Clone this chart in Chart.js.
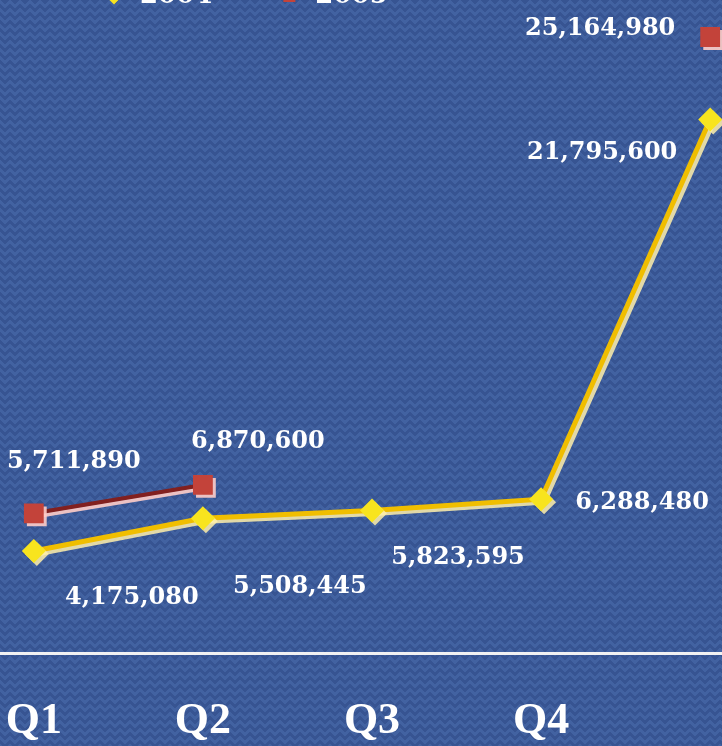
<!DOCTYPE html>
<html>
<head>
<meta charset="utf-8">
<script src="https://cdn.jsdelivr.net/npm/chart.js@4/dist/chart.umd.min.js"></script>
<style>
  html, body { margin: 0; padding: 0; width: 722px; height: 746px; overflow: hidden; }
  body {
    background-color: #4262a1;
    background-image:
      linear-gradient(135deg, #375492 25%, transparent 25%),
      linear-gradient(225deg, #375492 25%, transparent 25%),
      linear-gradient(315deg, #375492 25%, transparent 25%),
      linear-gradient(45deg, #375492 25%, transparent 25%);
    background-size: 10px 8px;
    background-position: -5px 0, -5px 0, 0 0, 0 0;
  }
  #salesChart { position: absolute; left: 0; top: -81px; }
</style>
</head>
<body>
<canvas id="salesChart" width="722" height="829"></canvas>
<script>
const quarters = ['Q1', 'Q2', 'Q3', 'Q4', ''];
const seriesNames = ['2004', '2005'];
const sales2004 = [4175080, 5508445, 5823595, 6288480, 21795600];
const sales2005 = [5711890, 6870600, null, null, 25164980];

// where each value label sits relative to its point (dx, dy)
const labelOffsets = [
    [[98, 47], [97, 68], [86, 47], [101, 4], [-108, 33]],
    [[40, -52], [55, -43], null, null, [-110, -8]]
];

const toPoints = values => values.map((v, i) => ({ x: i, y: v }));

// flat drop shadow under the lines and markers
const shadowPlugin = {
    id: 'flatShadow',
    beforeDatasetDraw(chart, args) {
        const ctx = chart.ctx;
        ctx.save();
        ctx.shadowColor = args.index === 0 ? 'rgba(255,240,170,0.85)' : 'rgba(255,205,200,0.9)';
        ctx.shadowOffsetX = 3;
        ctx.shadowOffsetY = 3;
        ctx.shadowBlur = 0;
    },
    afterDatasetDraw(chart) {
        chart.ctx.restore();
    }
};

const valueLabels = {
    id: 'valueLabels',
    afterDatasetsDraw(chart) {
        const ctx = chart.ctx;
        ctx.save();
        ctx.fillStyle = '#ffffff';
        ctx.font = 'bold 24px "DejaVu Serif"';
        ctx.textAlign = 'center';
        ctx.textBaseline = 'middle';
        chart.data.datasets.forEach((ds, di) => {
            chart.getDatasetMeta(di).data.forEach((pt, i) => {
                const v = ds.data[i].y;
                if (v === null) return;
                const off = labelOffsets[di][i];
                ctx.fillText(v.toLocaleString('en-US'), pt.x + off[0], pt.y + off[1]);
            });
        });
        ctx.restore();
    }
};

// legend starts a bit in from the left edge
const legendShift = {
    id: 'legendShift',
    afterLayout(chart) {
        chart.legend.left = 37;
    }
};

new Chart(document.getElementById('salesChart'), {
    type: 'line',
    data: {
        datasets: [{
            label: seriesNames[0],
            data: toPoints(sales2004),
            borderColor: '#f0be00',
            borderWidth: 5,
            backgroundColor: '#f8e41e',
            pointStyle: 'rectRot',
            pointRadius: 12,
            pointBorderWidth: 0,
            pointBorderColor: '#f8e41e',
            tension: 0
        }, {
            label: seriesNames[1],
            data: toPoints(sales2005),
            borderColor: '#82201f',
            borderWidth: 4,
            backgroundColor: '#c3433a',
            pointStyle: 'rect',
            pointRadius: 14,
            pointBorderWidth: 0,
            pointBorderColor: '#c3433a',
            spanGaps: false,
            tension: 0
        }]
    },
    options: {
        responsive: false,
        animation: false,
        layout: { padding: 0, autoPadding: false },
        plugins: {
            legend: {
                position: 'top',
                align: 'start',
                labels: {
                    color: '#ffffff',
                    usePointStyle: true,
                    boxHeight: 12,
                    padding: 64,
                    font: { family: 'DejaVu Serif', size: 26, weight: 'bold' }
                }
            },
            tooltip: { enabled: false }
        },
        scales: {
            x: {
                type: 'linear',
                min: -0.2,
                max: 4.07,
                // invisible tick marks keep the labels well below the axis line
                grid: {
                    display: true,
                    drawOnChartArea: false,
                    drawTicks: true,
                    tickLength: 42,
                    color: 'rgba(0,0,0,0)'
                },
                border: { display: true, color: '#f2f2f2', width: 3 },
                ticks: {
                    stepSize: 1,
                    includeBounds: false,
                    autoSkip: false,
                    maxRotation: 0,
                    padding: 0,
                    color: '#ffffff',
                    font: { family: 'Liberation Serif', size: 44, weight: 'bold' },
                    callback: v => quarters[v] ?? ''
                }
            },
            y: {
                display: false,
                min: 0,
                max: 25900000
            }
        }
    },
    plugins: [shadowPlugin, valueLabels, legendShift]
});
</script>
</body>
</html>
